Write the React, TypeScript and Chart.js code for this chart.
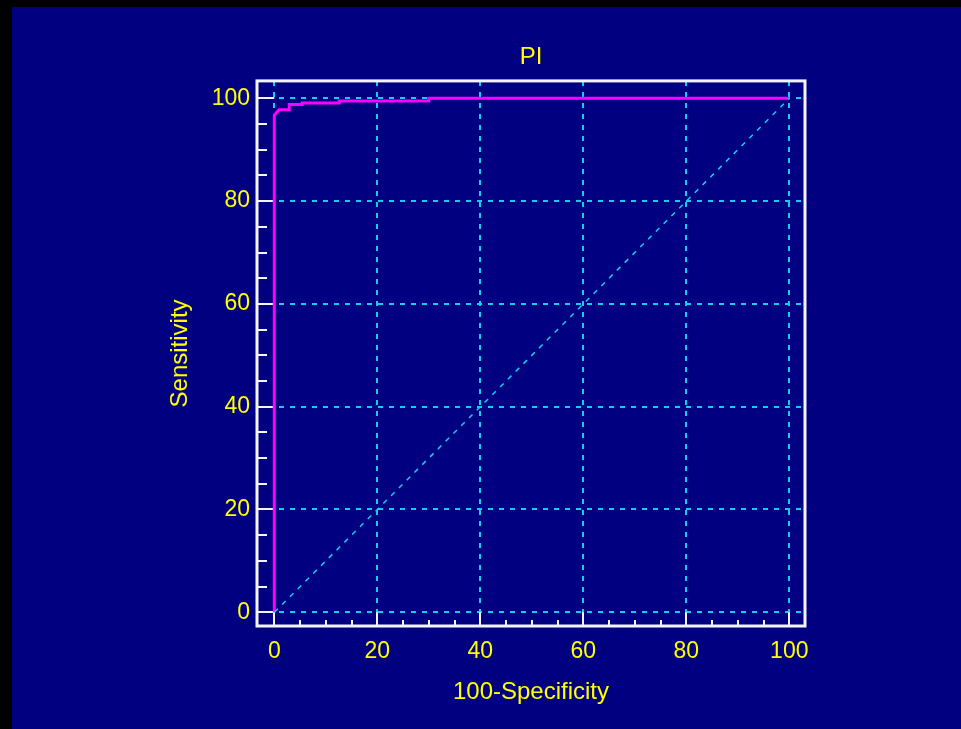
import React, { useEffect, useRef } from "react";
import { Chart, registerables } from "chart.js";

Chart.register(...registerables);

const TITLE = "PI";
const X_LABEL = "100-Specificity";
const Y_LABEL = "Sensitivity";
const X_TICKS = [0, 20, 40, 60, 80, 100];
const Y_TICKS = [0, 20, 40, 60, 80, 100];
const MINOR_STEP = 5;
const ROC_X = [0, 0, 0.5, 0.9, 2.9, 2.9, 5.4, 5.4, 12.6, 12.6, 30, 30, 100];
const ROC_Y = [0, 96.7, 97.3, 97.8, 97.8, 98.8, 98.8, 99.1, 99.1, 99.5, 99.5, 100, 100];
const DIAG_X = [0, 100];
const DIAG_Y = [0, 100];

const NAVY = "#000080";
const YELLOW = "#ffff00";
const CYAN = "#10d0f0";
const MAGENTA = "#ff00ff";
const WHITE = "#f4f4ff";
const FONT = "'Liberation Sans', Arial, sans-serif";

const framePlugin = {
  id: "framePlugin",
  beforeDatasetsDraw(chart: any) {
    const { ctx, chartArea: a, scales } = chart;
    const xs = scales.x;
    const ys = scales.y;
    ctx.save();
    // dashed grid
    ctx.strokeStyle = CYAN;
    ctx.lineWidth = 2;
    ctx.setLineDash([5, 6]);
    X_TICKS.forEach((v) => {
      const px = Math.round(xs.getPixelForValue(v));
      ctx.beginPath();
      ctx.moveTo(px, a.top);
      ctx.lineTo(px, a.bottom);
      ctx.stroke();
    });
    Y_TICKS.forEach((v) => {
      const py = Math.round(ys.getPixelForValue(v));
      ctx.beginPath();
      ctx.moveTo(a.left, py);
      ctx.lineTo(a.right, py);
      ctx.stroke();
    });
    ctx.setLineDash([]);
    // inward ticks
    ctx.strokeStyle = WHITE;
    ctx.lineWidth = 2;
    const x0 = xs.getPixelForValue(0);
    const y0 = ys.getPixelForValue(0);
    for (let v = 0; v <= 100; v += MINOR_STEP) {
      const major = X_TICKS.includes(v);
      const px = Math.round(xs.getPixelForValue(v));
      ctx.beginPath();
      ctx.moveTo(px, a.bottom);
      ctx.lineTo(px, major ? y0 : a.bottom - 6);
      ctx.stroke();
      const py = Math.round(ys.getPixelForValue(v));
      ctx.beginPath();
      ctx.moveTo(a.left, py);
      ctx.lineTo(major ? x0 : a.left + 10, py);
      ctx.stroke();
    }
    ctx.restore();
  },
  afterDraw(chart: any) {
    const { ctx, chartArea: a } = chart;
    ctx.save();
    ctx.strokeStyle = WHITE;
    ctx.lineWidth = 3;
    ctx.strokeRect(a.left, a.top, a.right - a.left, a.bottom - a.top);
    ctx.restore();
  },
};

export default function App() {
  const ref = useRef<HTMLCanvasElement>(null);
  useEffect(() => {
    if (!ref.current) return;
    Chart.defaults.font.family = FONT;
    const chart = new Chart(ref.current, {
      type: "scatter",
      data: {
        datasets: [
          {
            data: DIAG_X.map((x, i) => ({ x, y: DIAG_Y[i] })),
            showLine: true,
            borderColor: CYAN,
            borderWidth: 1.5,
            borderDash: [5, 6],
            pointRadius: 0,
          },
          {
            data: ROC_X.map((x, i) => ({ x, y: ROC_Y[i] })),
            showLine: true,
            borderColor: MAGENTA,
            borderWidth: 3,
            pointRadius: 0,
            tension: 0,
          },
        ],
      },
      options: {
        animation: false,
        responsive: false,
        layout: { padding: { left: 150, right: 156, top: 30, bottom: 18.6 } },
        plugins: {
          legend: { display: false },
          tooltip: { enabled: false },
          title: {
            display: true,
            fullSize: false,
            text: TITLE,
            color: YELLOW,
            font: { size: 24, weight: "normal", family: FONT },
            padding: { top: 5.6, bottom: 9.5 },
          },
        },
        scales: {
          x: {
            type: "linear",
            min: -3.36,
            max: 103.05,
            afterBuildTicks: (s: any) => {
              s.ticks = X_TICKS.map((value) => ({ value }));
            },
            afterFit: (s: any) => {
              s.height = 84.4;
            },
            grid: { display: false, drawTicks: false },
            border: { display: false },
            ticks: {
              color: YELLOW,
              font: { size: 23, family: FONT },
              padding: 12,
              maxRotation: 0,
              autoSkip: false,
            },
            title: {
              display: true,
              text: X_LABEL,
              color: YELLOW,
              font: { size: 24, family: FONT },
            },
          },
          y: {
            type: "linear",
            min: -2.67,
            max: 103.4,
            afterBuildTicks: (s: any) => {
              s.ticks = Y_TICKS.map((value) => ({ value }));
            },
            afterFit: (s: any) => {
              s.width = 95;
            },
            grid: { display: false, drawTicks: false },
            border: { display: false },
            ticks: {
              color: YELLOW,
              font: { size: 23, family: FONT },
              padding: 7,
              autoSkip: false,
            },
            title: {
              display: true,
              text: Y_LABEL,
              color: YELLOW,
              font: { size: 24, family: FONT },
            },
          },
        },
      },
      plugins: [framePlugin],
    } as any);
    return () => chart.destroy();
  }, []);

  return (
    <div style={{ position: "fixed", left: 0, top: 0, width: 961, height: 729, background: "#000" }}>
      <div style={{ position: "absolute", left: 12, top: 7, width: 949, height: 722, background: NAVY }}>
        <canvas ref={ref} width={949} height={722} style={{ display: "block" }} />
      </div>
    </div>
  );
}
